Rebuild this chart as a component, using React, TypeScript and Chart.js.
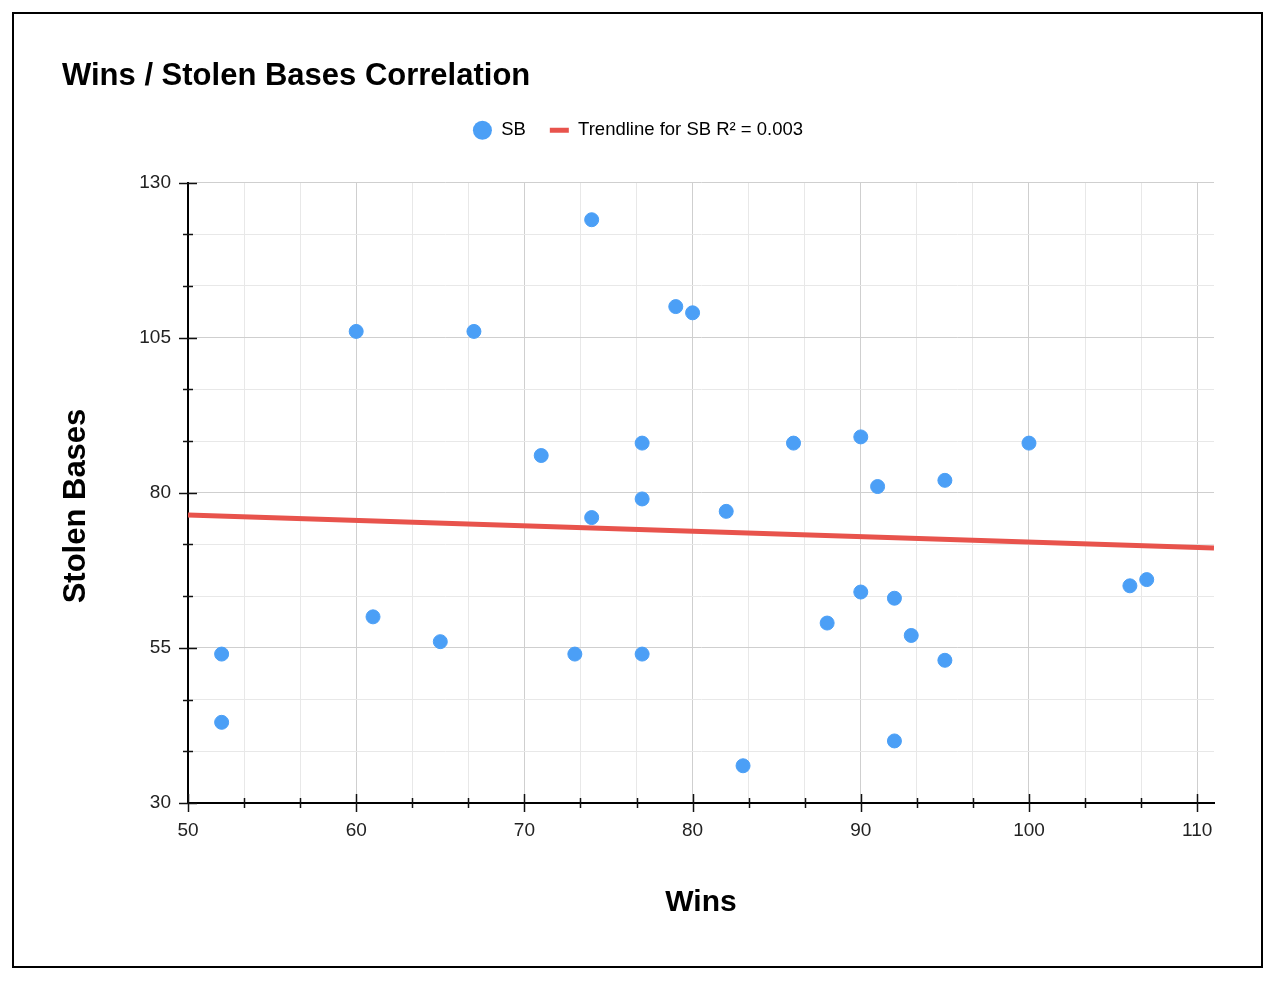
import React, { useEffect, useRef } from "react";
import { Chart, registerables } from "chart.js";

Chart.register(...registerables);

const titleText = "Wins / Stolen Bases Correlation";
const xTitle = "Wins";
const yTitle = "Stolen Bases";
const seriesLabel = "SB";
const trendLabel = "Trendline for SB R² = 0.003";

const wins = [52, 52, 60, 61, 65, 67, 71, 73, 74, 74, 77, 77, 77, 79, 80, 82, 83, 86, 88, 90, 90, 91, 92, 92, 93, 95, 95, 100, 106, 107];
const stolenBases = [54, 43, 106, 60, 56, 106, 86, 54, 124, 76, 88, 79, 54, 110, 109, 77, 36, 88, 59, 89, 64, 81, 63, 40, 57, 82, 53, 88, 65, 66];

const trendX = [50, 111];
const trendY = [76.4, 71.1];

const xMajorTicks = [50, 60, 70, 80, 90, 100, 110];
const yMajorTicks = [30, 55, 80, 105, 130];
const xRange = [50, 111];
const yRange = [30, 130];

const FONT = "'Liberation Sans', Arial, Helvetica, sans-serif";

function withMinor(majors: number[]) {
  const out: number[] = [];
  for (let i = 0; i < majors.length; i++) {
    out.push(majors[i]);
    if (i < majors.length - 1) {
      const step = (majors[i + 1] - majors[i]) / 3;
      out.push(majors[i] + step, majors[i] + 2 * step);
    }
  }
  return out;
}

function isMajor(v: number, majors: number[]) {
  return majors.some((m) => Math.abs(m - v) < 1e-6);
}

const tickMarks = {
  id: "tickMarks",
  afterDraw(chart: any) {
    const { ctx, chartArea, scales } = chart;
    ctx.save();
    ctx.strokeStyle = "#111";
    ctx.lineWidth = 1.5;
    const xs = scales.x;
    xs.ticks.forEach((t: any) => {
      const px = Math.round(xs.getPixelForValue(t.value)) + 0.5;
      const len = isMajor(t.value, xMajorTicks) ? 9 : 5;
      ctx.beginPath();
      ctx.moveTo(px, chartArea.bottom - len);
      ctx.lineTo(px, chartArea.bottom + len);
      ctx.stroke();
    });
    const ys = scales.y;
    ys.ticks.forEach((t: any) => {
      const py = Math.round(ys.getPixelForValue(t.value)) + 0.5;
      const len = isMajor(t.value, yMajorTicks) ? 9 : 5;
      ctx.beginPath();
      ctx.moveTo(chartArea.left - len, py);
      ctx.lineTo(chartArea.left + len, py);
      ctx.stroke();
    });
    // y axis title
    ctx.translate(62, 492);
    ctx.rotate(-Math.PI / 2);
    ctx.fillStyle = "#000";
    ctx.font = `bold 31px ${FONT}`;
    ctx.textAlign = "center";
    ctx.textBaseline = "middle";
    ctx.fillText(yTitle, 0, 0);
    ctx.restore();
  },
};

const legendMargin = {
  id: "legendMargin",
  beforeInit(chart: any) {
    const legend = chart.legend;
    if (!legend) return;
    const origFit = legend.fit;
    legend.fit = function () {
      origFit.call(this);
      this.height += 33;
    };
  },
};

export default function App() {
  const ref = useRef<HTMLCanvasElement>(null);

  useEffect(() => {
    if (!ref.current) return;
    const points = wins.map((w, i) => ({ x: w, y: stolenBases[i] }));
    const trend = trendX.map((x, i) => ({ x, y: trendY[i] }));
    const chart = new Chart(ref.current, {
      type: "scatter",
      data: {
        datasets: [
          {
            label: seriesLabel,
            data: points,
            backgroundColor: "#4b9ff6",
            borderColor: "#4b9ff6",
            pointRadius: 7,
            pointHoverRadius: 7,
            pointStyle: "circle",
          },
          {
            type: "line",
            label: trendLabel,
            data: trend,
            borderColor: "#e8534c",
            backgroundColor: "#e8534c",
            borderWidth: 5,
            pointRadius: 0,
            showLine: true,
            fill: false,
          } as any,
        ],
      },
      options: {
        responsive: false,
        animation: false,
        devicePixelRatio: 1,
        layout: { padding: { left: 48, right: 47, top: 0, bottom: 30 } },
        plugins: {
          title: {
            display: true,
            text: titleText,
            align: "start",
            color: "#000",
            font: { family: FONT, size: 31, weight: "bold" },
            padding: { top: 43.4, bottom: 2.4 },
          },
          legend: {
            display: true,
            position: "top",
            labels: {
              color: "#333",
              font: { family: FONT, size: 18.5 },
              usePointStyle: true,
              pointStyleWidth: 19,
              boxHeight: 13.5,
              padding: 24,
              generateLabels: () => [
                {
                  text: seriesLabel,
                  fillStyle: "#4b9ff6",
                  strokeStyle: "#4b9ff6",
                  lineWidth: 0,
                  pointStyle: "circle",
                  datasetIndex: 0,
                  hidden: false,
                } as any,
                {
                  text: trendLabel,
                  fillStyle: "#e8534c",
                  strokeStyle: "#e8534c",
                  lineWidth: 5,
                  pointStyle: "line",
                  datasetIndex: 1,
                  hidden: false,
                } as any,
              ],
            },
          },
          tooltip: { enabled: false },
        },
        scales: {
          x: {
            type: "linear",
            min: xRange[0],
            max: xRange[1],
            afterBuildTicks: (scale: any) => {
              scale.ticks = withMinor(xMajorTicks).map((value) => ({ value }));
            },
            afterFit: (scale: any) => {
              scale.height = 133;
            },
            ticks: {
              autoSkip: false,
              maxRotation: 0,
              padding: 16,
              color: "#222",
              font: { family: FONT, size: 19 },
              callback: (v: any) => (isMajor(Number(v), xMajorTicks) ? String(Math.round(Number(v))) : ""),
            },
            grid: {
              drawTicks: false,
              color: (ctx: any) => (isMajor(ctx.tick.value, xMajorTicks) ? "#cfcfcf" : "#e8e8e8"),
              lineWidth: 1,
            },
            border: { display: true, color: "#000", width: 2 },
            title: {
              display: true,
              text: xTitle,
              color: "#000",
              font: { family: FONT, size: 30, weight: "bold", lineHeight: 1 },
              padding: { top: 0, bottom: 18.5 },
            },
          },
          y: {
            type: "linear",
            min: yRange[0],
            max: yRange[1],
            afterBuildTicks: (scale: any) => {
              scale.ticks = withMinor(yMajorTicks).map((value) => ({ value }));
            },
            afterFit: (scale: any) => {
              scale.width = 126;
            },
            ticks: {
              autoSkip: false,
              padding: 17,
              color: "#222",
              font: { family: FONT, size: 19 },
              callback: (v: any) => (isMajor(Number(v), yMajorTicks) ? String(Math.round(Number(v))) : ""),
            },
            grid: {
              drawTicks: false,
              color: (ctx: any) => (isMajor(ctx.tick.value, yMajorTicks) ? "#cfcfcf" : "#e8e8e8"),
              lineWidth: 1,
            },
            border: { display: true, color: "#000", width: 2 },
            title: { display: false, text: yTitle },
          },
        },
      },
      plugins: [tickMarks, legendMargin],
    });
    return () => chart.destroy();
  }, []);

  return (
    <div
      style={{
        position: "absolute",
        left: 12,
        top: 12,
        width: 1251,
        height: 956,
        border: "2px solid #000",
        boxSizing: "border-box",
        background: "#fff",
      }}
    >
      <canvas ref={ref} width={1247} height={952} style={{ display: "block", width: 1247, height: 952 }} />
    </div>
  );
}
